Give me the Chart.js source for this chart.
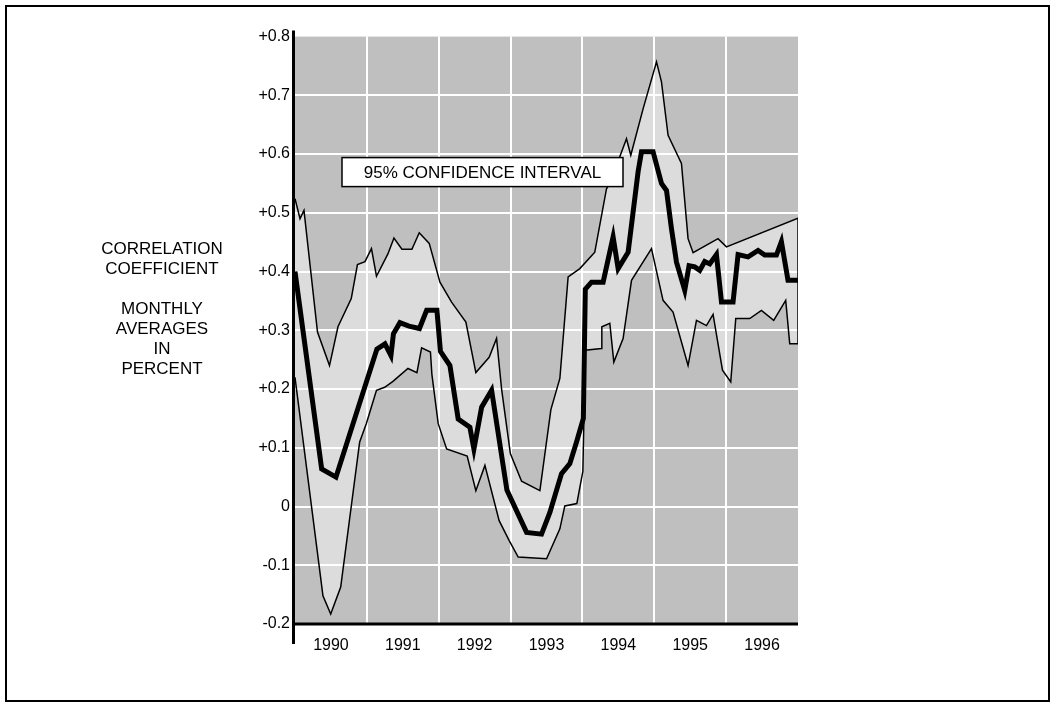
<!DOCTYPE html>
<html>
<head>
<meta charset="utf-8">
<script src="https://cdn.jsdelivr.net/npm/chart.js@4.4.1/dist/chart.umd.min.js"></script>
<style>
    html, body { margin: 0; padding: 0; background: #fff; }
    body { width: 1058px; height: 710px; position: relative; overflow: hidden; font-family: 'Liberation Sans', Arial, sans-serif; }
    #chart { position: absolute; left: 0; top: 0; }
    #frame { position: absolute; left: 5px; top: 5px; width: 1041px; height: 693px; border: 2px solid #000; pointer-events: none; }
    #ytitle { position: absolute; left: 62px; top: 239px; width: 200px; text-align: center; font-size: 17px; line-height: 20px; color: #000; }
</style>
</head>
<body>
<canvas id="chart" width="1058" height="710"></canvas>
<div id="ytitle">CORRELATION<br>COEFFICIENT<br>&nbsp;<br>MONTHLY<br>AVERAGES<br>IN<br>PERCENT</div>
<div id="frame"></div>
<script>
// Axis labels
const yearLabels = ['1990', '1991', '1992', '1993', '1994', '1995', '1996'];
const yTickValues = [-0.2, -0.1, 0, 0.1, 0.2, 0.3, 0.4, 0.5, 0.6, 0.7, 0.8];
const yTickLabels = ['-0.2', '-0.1', '0', '+0.1', '+0.2', '+0.3', '+0.4', '+0.5', '+0.6', '+0.7', '+0.8'];

// Monthly average correlation (thick line)
const meanYears = [1990.000, 1990.371, 1990.570, 1991.140, 1991.252, 1991.335, 1991.370, 1991.460, 1991.586, 1991.732,
    1991.832, 1991.975, 1992.024, 1992.156, 1992.271, 1992.434, 1992.490, 1992.597, 1992.736, 1992.949,
    1993.223, 1993.431, 1993.547, 1993.709, 1993.825, 1993.918, 1994.013, 1994.040, 1994.127, 1994.288,
    1994.427, 1994.497, 1994.636, 1994.775, 1994.822, 1994.983, 1995.100, 1995.170, 1995.239, 1995.309,
    1995.424, 1995.484, 1995.563, 1995.633, 1995.702, 1995.772, 1995.865, 1995.935, 1996.096, 1996.166,
    1996.305, 1996.444, 1996.537, 1996.700, 1996.769, 1996.861, 1997.000];
const meanVals = [0.40, 0.064, 0.05, 0.268, 0.277, 0.257, 0.294, 0.313, 0.307, 0.303,
    0.334, 0.334, 0.264, 0.240, 0.149, 0.135, 0.098, 0.169, 0.198, 0.028,
    -0.044, -0.047, -0.01, 0.056, 0.073, 0.11, 0.15, 0.37, 0.382, 0.382,
    0.459, 0.405, 0.433, 0.57, 0.604, 0.604, 0.55, 0.538, 0.473, 0.416,
    0.368, 0.41, 0.408, 0.402, 0.417, 0.413, 0.429, 0.348, 0.348, 0.429,
    0.425, 0.436, 0.428, 0.428, 0.451, 0.385, 0.385];

// Upper bound of the 95% confidence interval
const upperYears = [1990.000, 1990.070, 1990.125, 1990.313, 1990.480, 1990.598, 1990.783, 1990.869, 1990.974, 1991.064,
    1991.134, 1991.293, 1991.377, 1991.488, 1991.627, 1991.729, 1991.868, 1992.017, 1992.179, 1992.378,
    1992.517, 1992.702, 1992.805, 1992.875, 1992.997, 1993.153, 1993.408, 1993.561, 1993.686, 1993.801,
    1993.964, 1994.172, 1994.335, 1994.381, 1994.613, 1994.673, 1994.844, 1995.031, 1995.100, 1995.192,
    1995.378, 1995.470, 1995.540, 1995.887, 1996.004, 1997.000];
const upperVals = [0.524, 0.49, 0.504, 0.297, 0.24, 0.306, 0.354, 0.412, 0.417, 0.439,
    0.392, 0.43, 0.457, 0.438, 0.438, 0.466, 0.448, 0.382, 0.348, 0.314,
    0.228, 0.254, 0.286, 0.2, 0.09, 0.043, 0.027, 0.165, 0.218, 0.391,
    0.405, 0.433, 0.541, 0.55, 0.626, 0.598, 0.677, 0.757, 0.723, 0.632,
    0.584, 0.456, 0.432, 0.456, 0.442, 0.491];

// Lower bound of the 95% confidence interval
const lowerYears = [1990.000, 1990.389, 1990.497, 1990.636, 1990.900, 1990.992, 1991.134, 1991.248, 1991.363, 1991.572,
    1991.697, 1991.762, 1991.885, 1991.905, 1991.993, 1992.110, 1992.396, 1992.517, 1992.643, 1992.841,
    1992.981, 1993.106, 1993.501, 1993.686, 1993.755, 1993.922, 1994.006, 1994.040, 1994.266, 1994.270,
    1994.381, 1994.437, 1994.566, 1994.683, 1994.961, 1995.122, 1995.261, 1995.470, 1995.587, 1995.726,
    1995.818, 1995.949, 1996.064, 1996.134, 1996.328, 1996.491, 1996.662, 1996.829, 1996.885, 1997.000];
const lowerVals = [0.22, -0.152, -0.183, -0.137, 0.11, 0.141, 0.198, 0.203, 0.213, 0.235,
    0.228, 0.27, 0.263, 0.225, 0.141, 0.098, 0.086, 0.027, 0.07, -0.024,
    -0.058, -0.086, -0.089, -0.038, 0.001, 0.005, 0.06, 0.266, 0.269, 0.306,
    0.312, 0.246, 0.286, 0.385, 0.439, 0.351, 0.331, 0.24, 0.317, 0.308,
    0.327, 0.232, 0.212, 0.32, 0.32, 0.334, 0.317, 0.351, 0.277, 0.277];

const firstYear = 1990;
const lastYear = 1997;

function toPoints(xs, ys) {
    return xs.map((x, i) => ({ x: x, y: ys[i] }));
}

// tick at every year boundary (grid) and mid-year (label)
const xTickValues = [];
yearLabels.forEach((lbl, i) => {
    xTickValues.push(firstYear + i, firstYear + i + 0.5);
});
xTickValues.push(lastYear);

// gray plot background, must run before the filler so the band sits on top of it
const plotBackground = {
    id: 'plotBackground',
    beforeDraw(chart) {
        const { ctx, chartArea: a } = chart;
        ctx.save();
        ctx.fillStyle = '#bfbfbf';
        ctx.fillRect(a.left, a.top, a.right - a.left, a.bottom - a.top);
        ctx.restore();
    }
};

const axisLines = {
    id: 'axisLines',
    afterDatasetsDraw(chart) {
        const { ctx, chartArea: a } = chart;
        ctx.save();
        ctx.strokeStyle = '#000';
        ctx.lineWidth = 3;
        ctx.beginPath();
        ctx.moveTo(a.left - 1.5, a.top - 6);
        ctx.lineTo(a.left - 1.5, a.bottom + 20);
        ctx.stroke();
        ctx.beginPath();
        ctx.moveTo(a.left - 3, a.bottom);
        ctx.lineTo(a.right, a.bottom);
        ctx.stroke();
        ctx.restore();
    }
};

const intervalLabel = {
    id: 'intervalLabel',
    afterDatasetsDraw(chart) {
        const { ctx, chartArea: a } = chart;
        const left = a.left + 47, top = a.top + 121, w = 281, h = 29;
        ctx.save();
        ctx.fillStyle = '#fff';
        ctx.fillRect(left, top, w, h);
        ctx.strokeStyle = '#000';
        ctx.lineWidth = 1.5;
        ctx.strokeRect(left, top, w, h);
        ctx.fillStyle = '#000';
        ctx.font = "17px 'Liberation Sans', Arial, sans-serif";
        ctx.textAlign = 'center';
        ctx.textBaseline = 'middle';
        ctx.fillText('95% CONFIDENCE INTERVAL', left + w / 2, top + h / 2 + 1);
        ctx.restore();
    }
};

try {
    if (typeof Chart === 'undefined') {
        console.error('Chart.js not loaded');
    } else {
        Chart.unregister(Chart.Filler);
        Chart.register(plotBackground);
        Chart.register(Chart.Filler);

        Chart.defaults.font.family = "'Liberation Sans', Arial, sans-serif";
        Chart.defaults.color = '#000';

        new Chart(document.getElementById('chart'), {
            type: 'line',
            data: {
                datasets: [
                    {
                        label: 'Upper',
                        data: toPoints(upperYears, upperVals),
                        borderColor: '#000',
                        borderWidth: 1.5,
                        backgroundColor: '#dcdcdc',
                        fill: '+1',
                        pointRadius: 0,
                        tension: 0,
                        order: 1
                    },
                    {
                        label: 'Lower',
                        data: toPoints(lowerYears, lowerVals),
                        borderColor: '#000',
                        borderWidth: 1.5,
                        fill: false,
                        pointRadius: 0,
                        tension: 0,
                        order: 1
                    },
                    {
                        label: 'Monthly average',
                        data: toPoints(meanYears, meanVals),
                        borderColor: '#000',
                        borderWidth: 5,
                        borderJoinStyle: 'miter',
                        fill: false,
                        pointRadius: 0,
                        tension: 0,
                        order: 0
                    },
                    {
                        label: 'Edge',
                        data: [
                            { x: lastYear, y: lowerVals[lowerVals.length - 1] },
                            { x: lastYear, y: upperVals[upperVals.length - 1] }
                        ],
                        borderColor: '#000',
                        borderWidth: 1.5,
                        fill: false,
                        pointRadius: 0,
                        order: 1
                    }
                ]
            },
            options: {
                responsive: false,
                animation: false,
                layout: {
                    padding: { left: 215, right: 260, top: 36.6, bottom: 46 }
                },
                plugins: {
                    legend: { display: false },
                    tooltip: { enabled: false },
                    filler: { drawTime: 'beforeDraw', propagate: false }
                },
                scales: {
                    x: {
                        type: 'linear',
                        min: firstYear,
                        max: lastYear,
                        afterBuildTicks: (scale) => {
                            scale.ticks = xTickValues.map(v => ({ value: v }));
                        },
                        afterFit: (scale) => {
                            scale.height = 40;
                        },
                        border: { display: false },
                        grid: {
                            drawTicks: false,
                            lineWidth: 2,
                            color: (c) => {
                                const v = c.tick ? c.tick.value : 0;
                                return (Number.isInteger(v) && v > firstYear && v < lastYear) ? '#fff' : 'rgba(0,0,0,0)';
                            }
                        },
                        ticks: {
                            autoSkip: false,
                            maxRotation: 0,
                            padding: 12,
                            font: { size: 16 },
                            color: '#000',
                            callback: (v) => Number.isInteger(v) ? '' : yearLabels[Math.floor(v) - firstYear]
                        }
                    },
                    y: {
                        type: 'linear',
                        min: yTickValues[0],
                        max: yTickValues[yTickValues.length - 1],
                        afterBuildTicks: (scale) => {
                            scale.ticks = yTickValues.map(v => ({ value: v }));
                        },
                        afterFit: (scale) => {
                            scale.width = 80;
                        },
                        border: { display: false },
                        grid: {
                            drawTicks: false,
                            lineWidth: 2,
                            color: (c) => (c.index > 0 && c.index < yTickValues.length - 1) ? '#fff' : 'rgba(0,0,0,0)'
                        },
                        ticks: {
                            padding: 5,
                            font: { size: 16 },
                            color: '#000',
                            callback: (v, i) => yTickLabels[i]
                        }
                    }
                }
            },
            plugins: [axisLines, intervalLabel]
        });
    }
} catch (error) {
    console.error('Error initializing chart:', error);
}
</script>
</body>
</html>
